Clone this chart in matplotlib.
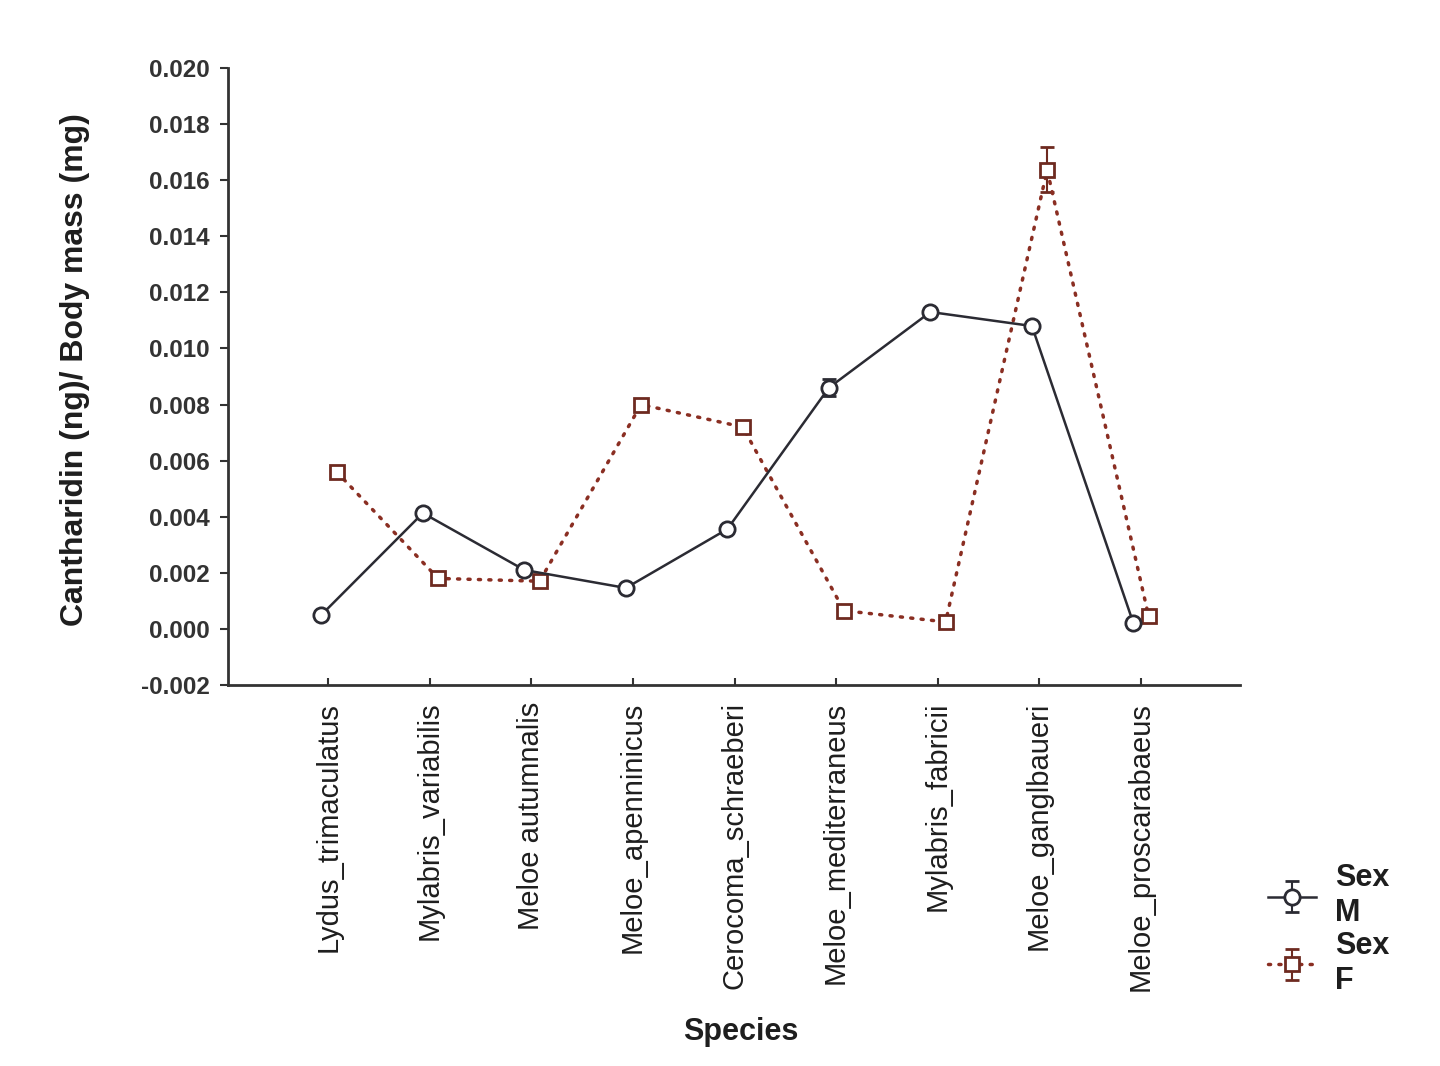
import matplotlib
matplotlib.use("Agg")
import matplotlib.pyplot as plt
import numpy as np

plt.rcParams['font.family'] = ['Liberation Sans', 'DejaVu Sans']

# data
species = ['Lydus_trimaculatus', 'Mylabris_variabilis', 'Meloe autumnalis',
           'Meloe_apenninicus', 'Cerocoma_schraeberi', 'Meloe_mediterraneus',
           'Mylabris_fabricii', 'Meloe_ganglbaueri', 'Meloe_proscarabaeus']
male = [0.0005, 0.00413, 0.0021, 0.00146, 0.00356, 0.0086, 0.0113, 0.0108, 0.0002]
male_err = [0.00005, 0.0001, 0.00008, 0.00005, 0.0001, 0.0003, 0.0001, 0.0001, 0.00005]
female = [0.0056, 0.0018, 0.0017, 0.0080, 0.0072, 0.00065, 0.00025, 0.01637, 0.00045]
female_err = [0.00005, 0.0001, 0.00005, 0.00005, 0.0001, 0.00005, 0.00005, 0.0008, 0.00005]
yticks = [-0.002, 0.000, 0.002, 0.004, 0.006, 0.008, 0.010, 0.012, 0.014, 0.016, 0.018, 0.020]

mcol = '#2b2b33'
fcol = '#8a2e22'

fig = plt.figure(figsize=(14.4, 10.66), dpi=100)
ax = fig.add_axes([228/1440, 1-685/1066, (1240-228)/1440, (685-68)/1066])

x = np.arange(len(species))
ax.errorbar(x - 0.07, male, yerr=male_err, color=mcol, lw=1.8, marker='o', ms=11,
            mfc='white', mec=mcol, mew=2, capsize=5, elinewidth=1.5, capthick=1.5,
            ecolor=mcol, label='Sex\nM', zorder=3)
ax.errorbar(x + 0.08, female, yerr=female_err, color=fcol, lw=2.5, ls=(0, (0.6, 2.4)),
            dash_capstyle='round', marker='s', ms=10, mfc='white', mec='#6e2a20', mew=2,
            capsize=5, elinewidth=1.5, capthick=1.5, ecolor='#6e2a20',
            label='Sex\nF', zorder=2)

ax.set_xlim(-0.99, 8.98)
ax.set_ylim(-0.002, 0.020)
ax.set_yticks(yticks)
ax.set_yticklabels(['%.3f' % v if v >= 0 else '-%.3f' % abs(v) for v in yticks],
                   fontsize=17.5, fontweight='bold')
ax.set_xticks(x)
ax.set_xticklabels(species, rotation=90, fontsize=21, va='top')
ax.tick_params(axis='y', direction='out', length=6, width=1.5, pad=7, colors='#333333')
ax.tick_params(axis='x', direction='in', length=5, width=1.5, pad=12, colors='#333333')
for lab in ax.get_yticklabels():
    lab.set_color('#333333')
for lab in ax.get_xticklabels():
    lab.set_color('#1e1e1e')

for s in ['top', 'right']:
    ax.spines[s].set_visible(False)
for s in ['left', 'bottom']:
    ax.spines[s].set_linewidth(2)
    ax.spines[s].set_color('#333333')

fig.text(75/1440, 1-370/1066, 'Cantharidin (ng)/ Body mass (mg)', rotation=90,
         fontsize=23, fontweight='bold', ha='center', va='center', color='#1e1e1e')
fig.text(741/1440, 1-1032/1066, 'Species', fontsize=22, fontweight='bold',
         ha='center', va='center', color='#1e1e1e')

leg = fig.legend(loc='upper left', bbox_to_anchor=(1240/1440, 1-836/1066), frameon=False,
                 fontsize=22, handlelength=1.6, handletextpad=0.6, labelspacing=0.1)
for t in leg.get_texts():
    t.set_fontweight('bold')
    t.set_color('#1e1e1e')

fig.savefig('out.png', dpi=100, facecolor='white')
